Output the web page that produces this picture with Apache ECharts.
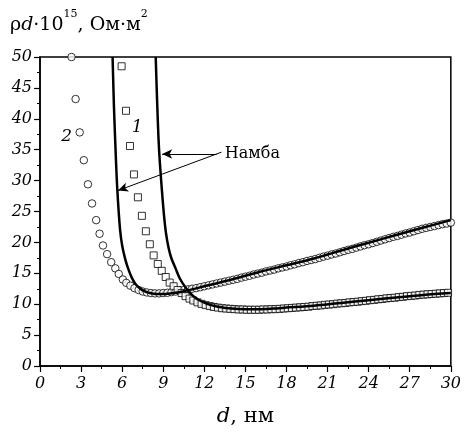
<!DOCTYPE html>
<html>
<head>
<meta charset="utf-8">
<script src="https://cdn.jsdelivr.net/npm/echarts@6/dist/echarts.min.js"></script>
<style>html,body{margin:0;padding:0;background:#fff;}#c{width:464px;height:432px;}</style>
</head>
<body>
<div id="c"></div>
<script>
// Series 2 (circles)
const circleX = [2.3,2.6,2.9,3.2,3.5,3.8,4.1,4.35,4.6,4.9,5.2,5.5,5.75,6.05,6.3,6.6,6.9,7.2,7.5,7.8,8.1,8.4,8.7,9.0,9.3,9.6,9.9,10.2,10.5,10.8,11.1,11.4,11.7,12.0,12.3,12.6,12.9,13.2,13.5,13.8,14.1,14.4,14.7,15.0,15.3,15.6,15.9,16.2,16.5,16.8,17.1,17.4,17.7,18.0,18.3,18.6,18.9,19.2,19.5,19.8,20.1,20.4,20.7,21.0,21.3,21.6,21.9,22.2,22.5,22.8,23.1,23.4,23.7,24.0,24.3,24.6,24.9,25.2,25.5,25.8,26.1,26.4,26.7,27.0,27.3,27.6,27.9,28.2,28.5,28.8,29.1,29.4,29.7,30.0];
const circleY = [50.0,43.2,37.8,33.3,29.4,26.3,23.6,21.4,19.5,18.1,16.8,15.8,14.9,14.0,13.45,13.0,12.6,12.3,12.05,11.9,11.8,11.75,11.75,11.8,11.85,11.95,12.05,12.15,12.3,12.4,12.5,12.6,12.75,12.9,13.05,13.2,13.35,13.5,13.65,13.8,13.95,14.1,14.3,14.45,14.6,14.8,14.95,15.1,15.3,15.45,15.6,15.8,15.95,16.1,16.3,16.45,16.65,16.8,17.0,17.15,17.3,17.5,17.7,17.85,18.05,18.2,18.4,18.6,18.8,18.95,19.15,19.35,19.55,19.7,19.9,20.1,20.3,20.5,20.7,20.9,21.05,21.25,21.45,21.6,21.8,22.0,22.2,22.35,22.5,22.65,22.8,22.95,23.05,23.2];
// Series 1 (squares)
const squareX = [5.96,6.28,6.57,6.86,7.15,7.44,7.73,8.02,8.3,8.6,8.89,9.18,9.47,9.76,10.05,10.34,10.63,10.92,11.2,11.5,11.8,12.1,12.4,12.7,13.0,13.3,13.6,13.9,14.2,14.5,14.8,15.1,15.4,15.7,16.0,16.3,16.6,16.9,17.2,17.5,17.8,18.1,18.4,18.7,19.0,19.3,19.6,19.9,20.2,20.5,20.8,21.1,21.4,21.7,22.0,22.3,22.6,22.9,23.2,23.5,23.8,24.1,24.4,24.7,25.0,25.3,25.6,25.9,26.2,26.5,26.8,27.1,27.4,27.7,28.0,28.3,28.6,28.9,29.2,29.5,29.8];
const squareY = [48.5,41.3,35.6,31.0,27.3,24.3,21.8,19.7,17.9,16.5,15.4,14.4,13.5,12.9,12.3,11.8,11.3,10.9,10.6,10.3,10.05,9.85,9.7,9.55,9.45,9.35,9.3,9.25,9.2,9.15,9.15,9.1,9.1,9.1,9.1,9.15,9.15,9.2,9.2,9.25,9.3,9.35,9.4,9.45,9.5,9.55,9.6,9.7,9.75,9.8,9.9,9.95,10.0,10.1,10.15,10.2,10.3,10.35,10.4,10.5,10.55,10.65,10.7,10.8,10.85,10.95,11.0,11.05,11.15,11.2,11.3,11.35,11.4,11.5,11.55,11.6,11.65,11.7,11.75,11.8,11.85];
// Namba fit for series 2
const fit2X = [5.3,5.4,5.5,5.6,5.7,5.85,6.0,6.2,6.4,6.7,7.0,7.4,7.8,8.3,8.8,9.5,10.5,12,14,16,18,20,22,24,26,28,30];
const fit2Y = [50,42,36,30.5,26.5,22,19.5,17.5,16.0,14.3,13.2,12.4,11.95,11.7,11.65,11.75,12.1,12.9,14.0,15.2,16.3,17.4,18.7,19.95,21.2,22.4,23.6];
// Namba fit for series 1
const fit1X = [8.45,8.55,8.65,8.75,8.9,9.05,9.2,9.4,9.6,9.9,10.2,10.6,11.0,11.5,12.0,12.5,13.0,14,15,16,17,18,20,22,24,26,28,30];
const fit1Y = [50,43,37,33,28.5,24.5,21.5,19.0,17.4,15.8,14.2,12.8,11.7,10.8,10.25,9.85,9.6,9.3,9.2,9.2,9.3,9.45,9.75,10.2,10.65,11.1,11.5,11.8];
// Axis ticks
const xTicks = [0,3,6,9,12,15,18,21,24,27,30];
const yTicks = [0,5,10,15,20,25,30,35,40,45,50];
// Annotations (data coordinates)
const curveLabels = [{text:'1', x:7.1, y:38.5},{text:'2', x:1.95, y:37.1}];
const nambaText = {text:'Намба', x:13.5, y:34.3};
const nambaArrows = [[[12.9,34.3],[8.92,34.3]],[[13.25,34.6],[5.7,28.4]]];

const zip = (a,b)=>a.map((v,i)=>[v,b[i]]);
const serif = 'DejaVu Serif';
const chart = echarts.init(document.getElementById('c'), null, {renderer:'canvas'});
chart.setOption({
  animation:false,
  backgroundColor:'#fff',
  title:{
    left:5, top:4,
    text:'{r|ρ}{i|d}{r|·10}{s|15}{r|, Ом·м}{s|2}',
    textStyle:{
      fontWeight:'normal',
      rich:{
        r:{fontFamily:serif,fontSize:19,fontWeight:'normal',color:'#000',lineHeight:26,verticalAlign:'bottom'},
        i:{fontFamily:serif,fontSize:19,fontWeight:'normal',fontStyle:'italic',color:'#000',lineHeight:26,verticalAlign:'bottom'},
        s:{fontFamily:serif,fontSize:11,fontWeight:'normal',color:'#000',lineHeight:26,verticalAlign:'top'}
      }
    }
  },
  grid:{left:40,right:10,top:57,bottom:66,show:true,borderColor:'#000',borderWidth:1.5,backgroundColor:'transparent'},
  xAxis:{
    type:'value',min:0,max:30,interval:3,
    name:'{i|d}{r|, нм}',nameLocation:'middle',nameGap:40,
    nameTextStyle:{rich:{
      i:{fontFamily:serif,fontSize:21,fontStyle:'italic',color:'#000'},
      r:{fontFamily:serif,fontSize:21,color:'#000'}
    }},
    axisLine:{show:true,lineStyle:{color:'#000',width:1.5}},
    axisTick:{show:true,inside:false,length:6,lineStyle:{color:'#000',width:1.2}},
    minorTick:{show:true,splitNumber:2,length:3,lineStyle:{color:'#000',width:1}},
    splitLine:{show:false},
    axisLabel:{fontFamily:serif,fontStyle:'italic',fontSize:16,color:'#000',margin:10,
      formatter:v=>xTicks.includes(v)?String(v):''}
  },
  yAxis:{
    type:'value',min:0,max:50,interval:5,
    axisLine:{show:true,lineStyle:{color:'#000',width:1.5}},
    axisTick:{show:true,inside:false,length:6,lineStyle:{color:'#000',width:1.2}},
    minorTick:{show:true,splitNumber:2,length:3,lineStyle:{color:'#000',width:1}},
    splitLine:{show:false},
    axisLabel:{fontFamily:serif,fontStyle:'italic',fontSize:16,color:'#000',margin:8,
      formatter:v=>yTicks.includes(v)?String(v):''}
  },
  series:[
    {type:'scatter',name:'2',data:zip(circleX,circleY),symbol:'circle',symbolSize:7.5,
      itemStyle:{color:'#fff',borderColor:'#000',borderWidth:1},z:2},
    {type:'scatter',name:'1',data:zip(squareX,squareY),symbol:'rect',symbolSize:7,
      itemStyle:{color:'#fff',borderColor:'#000',borderWidth:1},z:2},
    {type:'line',name:'fit2',data:zip(fit2X,fit2Y),smooth:0.3,showSymbol:false,
      lineStyle:{color:'#000',width:2.5},z:3},
    {type:'line',name:'fit1',data:zip(fit1X,fit1Y),smooth:0.3,showSymbol:false,
      lineStyle:{color:'#000',width:2.5},z:3,
      markLine:{silent:true,symbol:['none','arrow'],symbolSize:[7,10],
        lineStyle:{color:'#000',width:1,type:'solid'},label:{show:false},
        data:nambaArrows.map(a=>[{coord:a[0]},{coord:a[1]}])},
      markPoint:{silent:true,symbol:'circle',symbolSize:0,
        data:[
          {coord:[nambaText.x,nambaText.y],value:nambaText.text,
            label:{show:true,formatter:nambaText.text,position:'right',distance:0,fontFamily:serif,fontSize:16,color:'#000'}},
          ...curveLabels.map(l=>({coord:[l.x,l.y],value:l.text,
            label:{show:true,formatter:l.text,position:'inside',fontFamily:serif,fontStyle:'italic',fontSize:17,color:'#000'}}))
        ]}
    }
  ]
});
</script>
</body>
</html>
